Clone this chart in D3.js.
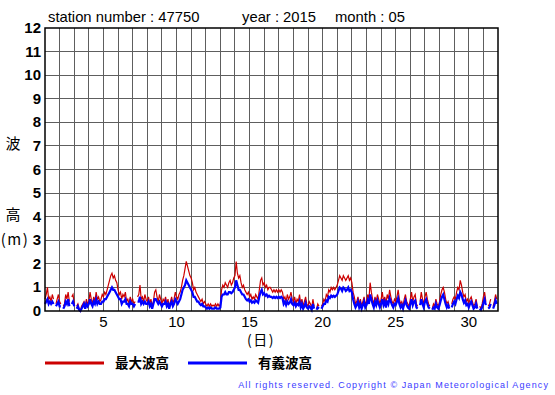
<!DOCTYPE html>
<html>
<head>
<meta charset="utf-8">
<script src="https://cdn.jsdelivr.net/npm/d3@7"></script>
<style>
body { margin: 0; background: #fff; }
svg { display: block; }
</style>
</head>
<body>
<div id="chart"></div>
<script>
// 2-hourly values (12 per day), day 1..31, null = missing
var maxWave = [
  0.5,0.7,1.0,0.5,0.6,0.4,0.7,0.5,null,0.3,0.5,0.7,
  0.4,0.3,null,0.2,0.3,0.7,0.5,0.8,0.4,null,0.6,0.7,
  0.3,null,0.2,0.3,0.1,0.0,0.2,0.3,0.4,0.2,0.5,0.3,
  0.4,0.8,0.5,0.3,0.6,0.4,0.8,0.5,0.6,0.4,0.5,0.7,
  0.6,0.8,0.7,0.9,1.1,1.3,1.5,1.6,1.4,1.5,1.3,1.2,
  0.9,0.7,0.8,0.5,0.7,0.6,0.8,0.4,0.5,0.3,0.6,0.4,
  0.5,0.3,0.4,null,0.6,0.7,1.1,0.5,0.6,0.4,0.7,0.5,
  0.4,0.6,0.3,0.5,0.2,0.4,0.8,0.9,0.6,0.4,0.7,0.5,
  0.3,0.5,0.4,0.6,0.3,0.5,0.2,0.4,0.6,0.3,0.5,0.8,
  0.6,0.5,0.7,0.8,1.0,1.3,1.5,1.8,2.1,1.9,1.7,1.5,
  1.4,1.2,0.9,1.0,0.8,0.7,0.6,0.5,0.4,0.5,0.3,0.4,
  0.3,0.2,0.3,0.2,0.3,0.2,0.25,0.2,0.3,0.2,0.3,0.2,
  0.3,0.9,1.1,1.0,1.2,1.1,1.0,1.2,1.3,1.1,1.2,1.4,
  1.5,2.1,1.6,1.4,1.5,1.2,1.0,1.1,0.9,0.8,0.7,0.8,
  0.6,0.7,0.5,0.6,0.5,0.7,0.6,0.5,0.9,1.3,1.4,1.1,
  1.2,1.0,1.1,0.9,1.0,1.0,0.9,0.8,0.9,0.8,0.9,0.8,
  0.9,0.8,0.9,0.8,0.5,0.6,0.4,0.7,0.5,0.6,0.8,0.5,
  0.4,0.6,0.3,0.5,0.4,0.7,0.3,0.5,0.2,0.4,0.6,0.3,
  0.2,0.4,0.3,0.1,0.5,0.2,null,0.1,0.3,0.2,null,0.2,
  0.3,0.5,0.4,0.7,0.6,0.9,0.8,1.0,0.9,1.0,0.9,1.0,
  1.1,1.3,1.5,1.4,1.3,1.5,1.4,1.3,1.4,1.5,1.3,1.4,
  1.2,0.8,0.6,0.3,0.4,0.6,0.3,0.5,0.2,0.4,0.6,0.3,
  0.4,0.7,0.5,1.2,0.8,0.5,0.3,0.6,0.4,0.7,0.5,0.3,
  0.5,0.8,0.4,0.6,0.3,0.7,0.5,0.9,0.6,0.4,0.3,0.5,
  0.4,0.6,0.9,0.5,0.3,0.4,0.2,0.5,0.7,0.4,0.3,0.2,
  0.5,0.8,0.4,0.6,0.7,0.3,0.2,null,0.4,0.8,0.5,0.3,
  0.6,0.8,0.5,0.3,0.2,null,0.1,0.3,0.2,0.5,0.3,0.2,
  0.4,0.7,0.9,1.0,0.8,0.5,0.3,0.4,0.2,null,0.3,0.5,
  0.6,0.5,0.8,1.0,0.9,1.3,1.1,0.8,0.6,0.7,0.4,0.5,
  0.3,0.5,0.6,0.4,0.2,0.3,0.5,0.2,null,0.2,0.1,0.3,
  0.6,0.8,0.4,null,0.2,0.3,0.5,null,0.2,0.4,0.7,0.5
];
var sigWave = [
  0.3,0.4,0.5,0.3,0.4,0.3,0.4,0.3,null,0.2,0.3,0.4,
  0.2,0.2,null,0.1,0.2,0.4,0.3,0.5,0.2,null,0.3,0.4,
  0.2,null,0.1,0.2,0.05,0.0,0.1,0.2,0.3,0.1,0.3,0.2,
  0.3,0.5,0.3,0.2,0.4,0.3,0.5,0.3,0.4,0.3,0.3,0.4,
  0.4,0.5,0.5,0.6,0.7,0.8,0.9,1.0,0.9,0.9,0.8,0.7,
  0.6,0.5,0.5,0.3,0.4,0.4,0.5,0.3,0.3,0.2,0.4,0.3,
  0.3,0.2,0.3,null,0.4,0.4,0.6,0.3,0.4,0.3,0.4,0.3,
  0.3,0.4,0.2,0.3,0.1,0.3,0.5,0.5,0.4,0.3,0.4,0.3,
  0.2,0.3,0.3,0.4,0.2,0.3,0.1,0.3,0.4,0.2,0.3,0.5,
  0.4,0.3,0.4,0.5,0.7,0.9,1.0,1.1,1.3,1.2,1.1,1.0,
  0.9,0.8,0.6,0.6,0.5,0.4,0.4,0.3,0.25,0.3,0.2,0.2,
  0.15,0.1,0.15,0.1,0.15,0.1,0.1,0.1,0.15,0.1,0.1,0.1,
  0.15,0.6,0.7,0.7,0.8,0.7,0.7,0.8,0.8,0.75,0.8,0.9,
  1.0,1.3,1.1,0.9,0.9,0.8,0.7,0.7,0.6,0.5,0.45,0.5,
  0.4,0.45,0.35,0.4,0.35,0.45,0.4,0.35,0.6,0.8,0.9,0.7,
  0.75,0.65,0.7,0.6,0.65,0.6,0.6,0.55,0.6,0.55,0.6,0.55,
  0.6,0.55,0.6,0.55,0.3,0.4,0.25,0.4,0.3,0.35,0.5,0.3,
  0.25,0.35,0.2,0.3,0.25,0.4,0.15,0.3,0.1,0.2,0.35,0.15,
  0.1,0.2,0.15,0.05,0.3,0.1,null,0.05,0.15,0.1,null,0.1,
  0.2,0.3,0.3,0.45,0.4,0.6,0.55,0.65,0.6,0.65,0.6,0.65,
  0.7,0.85,1.0,0.95,0.85,1.0,0.95,0.85,0.9,1.0,0.85,0.9,
  0.8,0.5,0.3,0.15,0.25,0.4,0.15,0.3,0.1,0.25,0.4,0.15,
  0.25,0.45,0.3,0.7,0.5,0.3,0.15,0.4,0.25,0.45,0.3,0.15,
  0.3,0.5,0.25,0.4,0.15,0.45,0.3,0.55,0.4,0.25,0.15,0.3,
  0.25,0.4,0.55,0.3,0.15,0.25,0.1,0.3,0.45,0.25,0.15,0.1,
  0.3,0.5,0.25,0.4,0.45,0.15,0.1,null,0.25,0.5,0.3,0.15,
  0.4,0.5,0.3,0.15,0.1,null,0.05,0.15,0.1,0.3,0.15,0.1,
  0.25,0.45,0.6,0.7,0.5,0.3,0.15,0.25,0.1,null,0.15,0.3,
  0.4,0.3,0.5,0.65,0.55,0.8,0.7,0.5,0.35,0.45,0.25,0.3,
  0.15,0.3,0.4,0.25,0.1,0.15,0.3,0.1,null,0.1,0.05,0.15,
  0.35,0.5,0.25,null,0.1,0.15,0.3,null,0.1,0.25,0.45,0.3
];
var perDay = 12;
var xTicks = [5, 10, 15, 20, 25, 30];
var yTicks = [0,1,2,3,4,5,6,7,8,9,10,11,12];
var titleParts = ["station number : 47750", "year : 2015", "month : 05"];
var legendNames = ["最大波高", "有義波高"];
var legendColors = ["#cc0000", "#0000ff"];

var width = 555, height = 395;
var margin = {top: 28, left: 45, right: 57, bottom: 84};

var svg = d3.select('#chart')
    .append('svg')
    .attr('width', width)
    .attr('height', height)
    .style('font-family', "'Liberation Sans', Arial, sans-serif");

var x = d3.scaleLinear()
    .domain([1, 32])
    .range([margin.left, width - margin.right]);

var y = d3.scaleLinear()
    .domain([0, 12])
    .range([height - margin.bottom, margin.top]);

// grid: one line per day, one per metre
svg.append('g')
    .selectAll('line')
    .data(d3.range(2, 32))
    .enter().append('line')
    .attr('x1', d => x(d)).attr('x2', d => x(d))
    .attr('y1', y(0)).attr('y2', y(12))
    .attr('stroke', '#5e5e5e').attr('stroke-width', 1)
    .attr('shape-rendering', 'crispEdges');

svg.append('g')
    .selectAll('line')
    .data(yTicks.slice(1, -1))
    .enter().append('line')
    .attr('x1', x(1)).attr('x2', x(32))
    .attr('y1', d => y(d)).attr('y2', d => y(d))
    .attr('stroke', '#5e5e5e').attr('stroke-width', 1)
    .attr('shape-rendering', 'crispEdges');

function series(vals){
    return vals.map(function(v, i){
        return {t: 1 + i / perDay, v: v};
    });
}

var line = d3.line()
    .defined(d => d.v !== null)
    .x(d => x(d.t))
    .y(d => y(d.v));

svg.append('path')
    .datum(series(maxWave))
    .attr('d', line)
    .attr('fill', 'none')
    .attr('stroke', legendColors[0])
    .attr('stroke-width', 1.2);

svg.append('path')
    .datum(series(sigWave))
    .attr('d', line)
    .attr('fill', 'none')
    .attr('stroke', legendColors[1])
    .attr('stroke-width', 2.2);

// frame
svg.append('rect')
    .attr('x', x(1)).attr('y', y(12))
    .attr('width', x(32) - x(1))
    .attr('height', y(0) - y(12))
    .attr('fill', 'none')
    .attr('stroke', '#000')
    .attr('stroke-width', 1.5);

// y tick labels
svg.append('g')
    .selectAll('text')
    .data(yTicks)
    .enter().append('text')
    .attr('x', 41)
    .attr('y', d => y(d) + 5)
    .attr('text-anchor', 'end')
    .attr('font-size', 15)
    .attr('font-weight', 'bold')
    .text(d => d);

// x tick labels
svg.append('g')
    .selectAll('text')
    .data(xTicks)
    .enter().append('text')
    .attr('x', d => x(d))
    .attr('y', 327)
    .attr('text-anchor', 'middle')
    .attr('font-size', 15)
    .text(d => d);

// title
var titleX = [48, 242, 335];
titleParts.forEach(function(t, i){
    svg.append('text')
        .attr('x', titleX[i]).attr('y', 22)
        .attr('font-size', 14.8)
        .text(t);
});

// axis titles
var cjk = "'Noto Sans CJK JP', sans-serif";
svg.append('text').attr('x', 13).attr('y', 149).attr('text-anchor', 'middle')
    .attr('font-size', 15).style('font-family', cjk).text('波');
svg.append('text').attr('x', 13).attr('y', 220).attr('text-anchor', 'middle')
    .attr('font-size', 15).style('font-family', cjk).text('高');
svg.append('text').attr('x', 15).attr('y', 245).attr('text-anchor', 'middle')
    .attr('font-size', 15).attr('letter-spacing', 1.5).style('font-family', cjk).text('(m)');
svg.append('text').attr('x', 261).attr('y', 345).attr('text-anchor', 'middle')
    .attr('font-size', 14).attr('letter-spacing', 1.5).style('font-family', cjk).text('(日)');

// legend
var legX = [45, 188];
legendNames.forEach(function(name, i){
    svg.append('line')
        .attr('x1', legX[i]).attr('x2', legX[i] + 59)
        .attr('y1', 363).attr('y2', 363)
        .attr('stroke', legendColors[i])
        .attr('stroke-width', 3);
    svg.append('text')
        .attr('x', legX[i] + 70).attr('y', 368)
        .attr('font-size', 13.5)
        .attr('font-weight', 'bold')
        .style('font-family', cjk)
        .text(name);
});

svg.append('text')
    .attr('x', 549).attr('y', 388)
    .attr('text-anchor', 'end')
    .attr('font-size', 9)
    .attr('letter-spacing', 1.1)
    .attr('fill', '#3a3aff')
    .text('All rights reserved. Copyright © Japan Meteorological Agency');
</script>
</body>
</html>
